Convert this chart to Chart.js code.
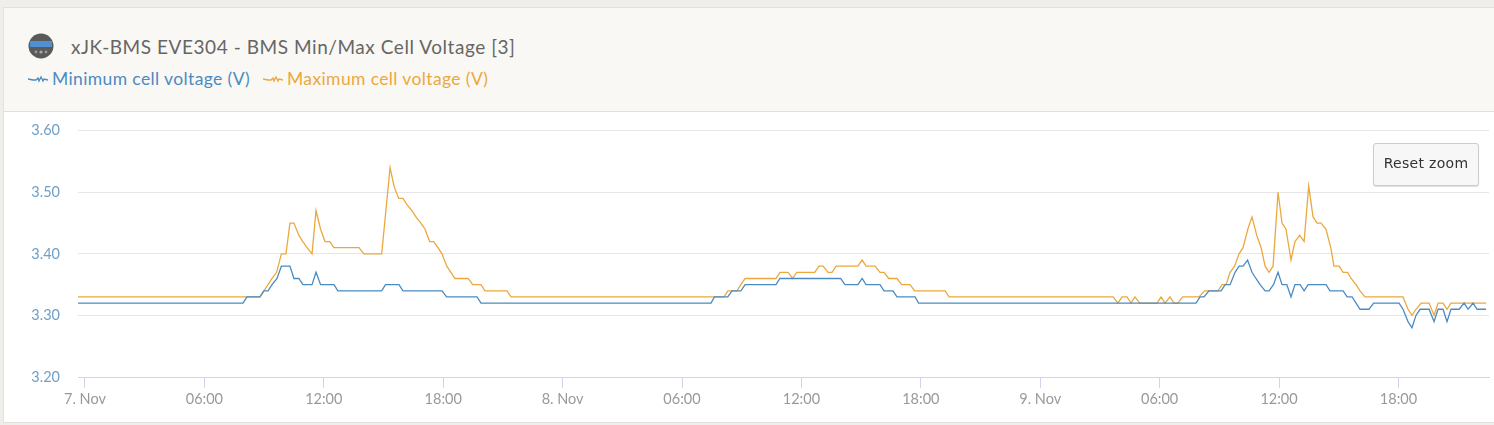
<!DOCTYPE html>
<html><head><meta charset="utf-8">
<script src="https://cdn.jsdelivr.net/npm/chart.js@4"></script>
<style>
html,body{margin:0;padding:0;width:1494px;height:425px;overflow:hidden;background:#efeeeb;font-family:Lato,sans-serif}
#card{position:absolute;left:3px;top:7px;width:1491px;height:416px;background:#fff;border:1px solid #e2e1dc;box-sizing:border-box;border-right:none}
#head{position:absolute;left:0;top:0;right:0;height:103px;background:#faf8f4;border-bottom:1px solid #dfdfdb}
#title{position:absolute;left:67px;top:27px;font-size:19px;color:#666;white-space:nowrap;letter-spacing:.55px}
#icon{position:absolute;left:24px;top:25px}
.leg{position:absolute;top:60px;font-size:17.5px;white-space:nowrap;letter-spacing:.38px}
.leg svg{vertical-align:1px;margin-right:4px}
#wrap{position:absolute;left:0;top:104px;width:1494px;height:321px}
#c{display:block}
#btn{position:absolute;left:1373px;top:143px;width:106px;height:43px;box-sizing:border-box;background:#f7f7f7;border:1px solid #cccccc;border-radius:3px;font-family:"DejaVu Sans",sans-serif;font-size:14px;letter-spacing:.3px;color:#333;text-align:center;line-height:38px;box-shadow:0 1px 1px #ddd}
</style></head><body>
<div id="card"><div id="head">
<svg id="icon" width="26" height="26" viewBox="0 0 26 26"><circle cx="13" cy="13" r="12.5" fill="#5a5a5a"/><rect x="2" y="8" width="22" height="6" fill="#4f90d0"/><circle cx="8" cy="19" r="1.4" fill="#999"/><circle cx="13" cy="19" r="1.6" fill="#aaa"/><circle cx="18" cy="19" r="1.4" fill="#999"/></svg>
<div id="title"></div>
<div class="leg" id="l0" style="left:24px"></div>
<div class="leg" id="l1" style="left:259px"></div>
</div></div>
<div id="wrap"><canvas id="c" width="1494" height="321"></canvas></div>
<div id="btn">Reset zoom</div>
<script>
const titleText = "xJK-BMS EVE304 - BMS Min/Max Cell Voltage [3]";
const minName = "Minimum cell voltage (V)";
const maxName = "Maximum cell voltage (V)";
const minColor = "#4a8bc2";
const maxColor = "#eba83e";
const yTicks = [3.2,3.3,3.4,3.5,3.6];
const hourTicks = [0,6,12,18,24,30,36,42,48,54,60,66];
const hourLabels = ["7. Nov","06:00","12:00","18:00","8. Nov","06:00","12:00","18:00","9. Nov","06:00","12:00","18:00"];
const minHours = [-0.35,7.94,8.14,8.79,8.99,9.20,9.40,9.65,9.87,10.30,10.50,10.75,10.95,11.41,11.61,11.84,12.51,12.71,14.91,15.10,15.78,15.98,17.94,18.17,19.70,19.90,31.46,31.63,32.30,32.51,32.96,33.17,34.72,34.92,37.97,38.19,38.84,39.05,39.25,39.95,40.15,40.60,40.80,41.71,41.89,55.83,56.03,56.23,56.48,57.09,57.29,57.54,57.79,57.99,58.19,58.42,58.64,58.84,59.05,59.30,59.50,59.72,59.95,60.15,60.39,60.60,60.80,61.06,61.26,61.46,62.36,62.56,63.22,63.42,63.67,64.07,64.52,64.75,66.03,66.23,66.48,66.68,66.88,67.09,67.54,67.79,67.99,68.24,68.44,68.64,69.05,69.30,69.50,69.75,69.95,70.40];
const minValues = [3.32,3.32,3.33,3.33,3.34,3.34,3.35,3.36,3.38,3.38,3.36,3.36,3.35,3.35,3.37,3.35,3.35,3.34,3.34,3.35,3.35,3.34,3.34,3.33,3.33,3.32,3.32,3.33,3.33,3.34,3.34,3.35,3.35,3.36,3.36,3.35,3.35,3.36,3.35,3.35,3.34,3.34,3.33,3.33,3.32,3.32,3.33,3.33,3.34,3.34,3.35,3.35,3.37,3.38,3.38,3.39,3.37,3.36,3.35,3.34,3.34,3.35,3.37,3.35,3.35,3.33,3.35,3.35,3.34,3.35,3.35,3.34,3.34,3.33,3.33,3.31,3.31,3.32,3.32,3.31,3.29,3.28,3.30,3.31,3.31,3.29,3.31,3.31,3.29,3.31,3.31,3.32,3.31,3.32,3.31,3.31];
const maxHours = [-0.35,8.14,8.79,8.99,9.20,9.40,9.63,9.87,10.10,10.30,10.50,10.75,10.95,11.16,11.41,11.61,11.84,12.06,12.30,12.51,13.77,14.01,14.91,15.33,15.53,15.76,15.98,16.18,16.43,16.63,16.88,17.09,17.32,17.52,17.74,17.94,18.18,18.39,18.59,19.25,19.48,19.90,20.10,21.21,21.41,32.11,32.31,32.76,32.96,33.17,34.72,34.92,35.33,35.56,35.76,36.67,36.88,37.09,37.34,37.54,37.74,38.84,39.05,39.25,39.70,39.95,40.15,40.39,40.80,41.04,41.46,41.69,43.22,43.42,51.66,51.91,52.11,52.36,52.56,52.76,53.00,53.87,54.07,54.27,54.52,54.72,54.92,55.16,55.98,56.26,56.93,57.14,57.34,57.54,57.77,57.99,58.19,58.43,58.64,58.88,59.10,59.30,59.50,59.70,59.95,60.15,60.35,60.60,60.80,61.04,61.26,61.49,61.71,61.91,62.11,62.36,62.60,62.76,63.02,63.22,63.45,63.62,63.87,64.07,64.32,66.23,66.48,66.68,66.88,67.14,67.54,67.79,67.99,68.24,68.44,68.64,70.40];
const maxValues = [3.33,3.33,3.33,3.34,3.35,3.36,3.37,3.40,3.40,3.45,3.45,3.43,3.42,3.41,3.40,3.47,3.44,3.42,3.42,3.41,3.41,3.40,3.40,3.54,3.51,3.49,3.49,3.48,3.47,3.46,3.45,3.44,3.42,3.42,3.41,3.40,3.38,3.37,3.36,3.36,3.35,3.35,3.34,3.34,3.33,3.33,3.34,3.34,3.35,3.36,3.36,3.37,3.37,3.36,3.37,3.37,3.38,3.38,3.37,3.37,3.38,3.38,3.39,3.38,3.38,3.37,3.37,3.36,3.36,3.35,3.35,3.34,3.34,3.33,3.33,3.32,3.33,3.33,3.32,3.33,3.32,3.32,3.33,3.32,3.33,3.32,3.32,3.33,3.33,3.34,3.34,3.35,3.35,3.37,3.38,3.40,3.41,3.44,3.46,3.43,3.41,3.38,3.37,3.38,3.50,3.45,3.44,3.39,3.42,3.43,3.42,3.51,3.46,3.45,3.45,3.44,3.41,3.38,3.38,3.37,3.37,3.36,3.35,3.34,3.33,3.33,3.31,3.30,3.31,3.32,3.32,3.30,3.32,3.32,3.31,3.32,3.32];

const squiggle = c => `<svg width="20" height="10" viewBox="0 0 20 10"><polyline points="0,5 5,6 8,6 10,4 11,7 13,3 15,7 16,5 20,6" fill="none" stroke="${c}" stroke-width="1.3"/></svg>`;
document.getElementById('title').textContent = titleText;
document.getElementById('l0').innerHTML = squiggle(minColor) + `<span style="color:${minColor}">${minName}</span>`;
document.getElementById('l1').innerHTML = squiggle(maxColor) + `<span style="color:${maxColor}">${maxName}</span>`;

const pairs = (xs, ys) => xs.map((x,i)=>({x, y:ys[i]}));
new Chart(document.getElementById('c'), {
  type:'line',
  data:{datasets:[
    {label:minName,data:pairs(minHours,minValues),borderColor:minColor,borderWidth:1.3,pointRadius:0,tension:0,fill:false},
    {label:maxName,data:pairs(maxHours,maxValues),borderColor:maxColor,borderWidth:1.3,pointRadius:0,tension:0,fill:false}
  ]},
  options:{
    responsive:false,animation:false,devicePixelRatio:1,
    layout:{padding:{left:0,right:5,top:9,bottom:0}},
    plugins:{legend:{display:false},title:{display:false},tooltip:{enabled:false}},
    scales:{
      x:{type:'linear',min:-0.35,max:70.55,
        afterBuildTicks:a=>{a.ticks=hourTicks.map(v=>({value:v}));},
        afterFit:s=>{s.height=48;},
        grid:{drawOnChartArea:false,drawTicks:true,tickLength:11,tickColor:'#ccd6eb',tickWidth:1},
        border:{color:'#ccd6eb',width:1},
        ticks:{autoSkip:false,maxRotation:0,padding:3,color:'#999',font:{family:'Lato',size:14.5},
          callback:v=>hourLabels[hourTicks.indexOf(v)]}},
      y:{min:3.2,max:3.6,
        afterBuildTicks:a=>{a.ticks=yTicks.map(v=>({value:v}));},
        afterFit:s=>{s.width=78;},
        grid:{color:'#e6e6e6',lineWidth:1,drawTicks:false},
        border:{display:false},
        ticks:{padding:18,color:'#6f9fc6',font:{family:'Lato',size:14.5},callback:v=>v.toFixed(2)}}
    }
  }
});
</script>
</body></html>
